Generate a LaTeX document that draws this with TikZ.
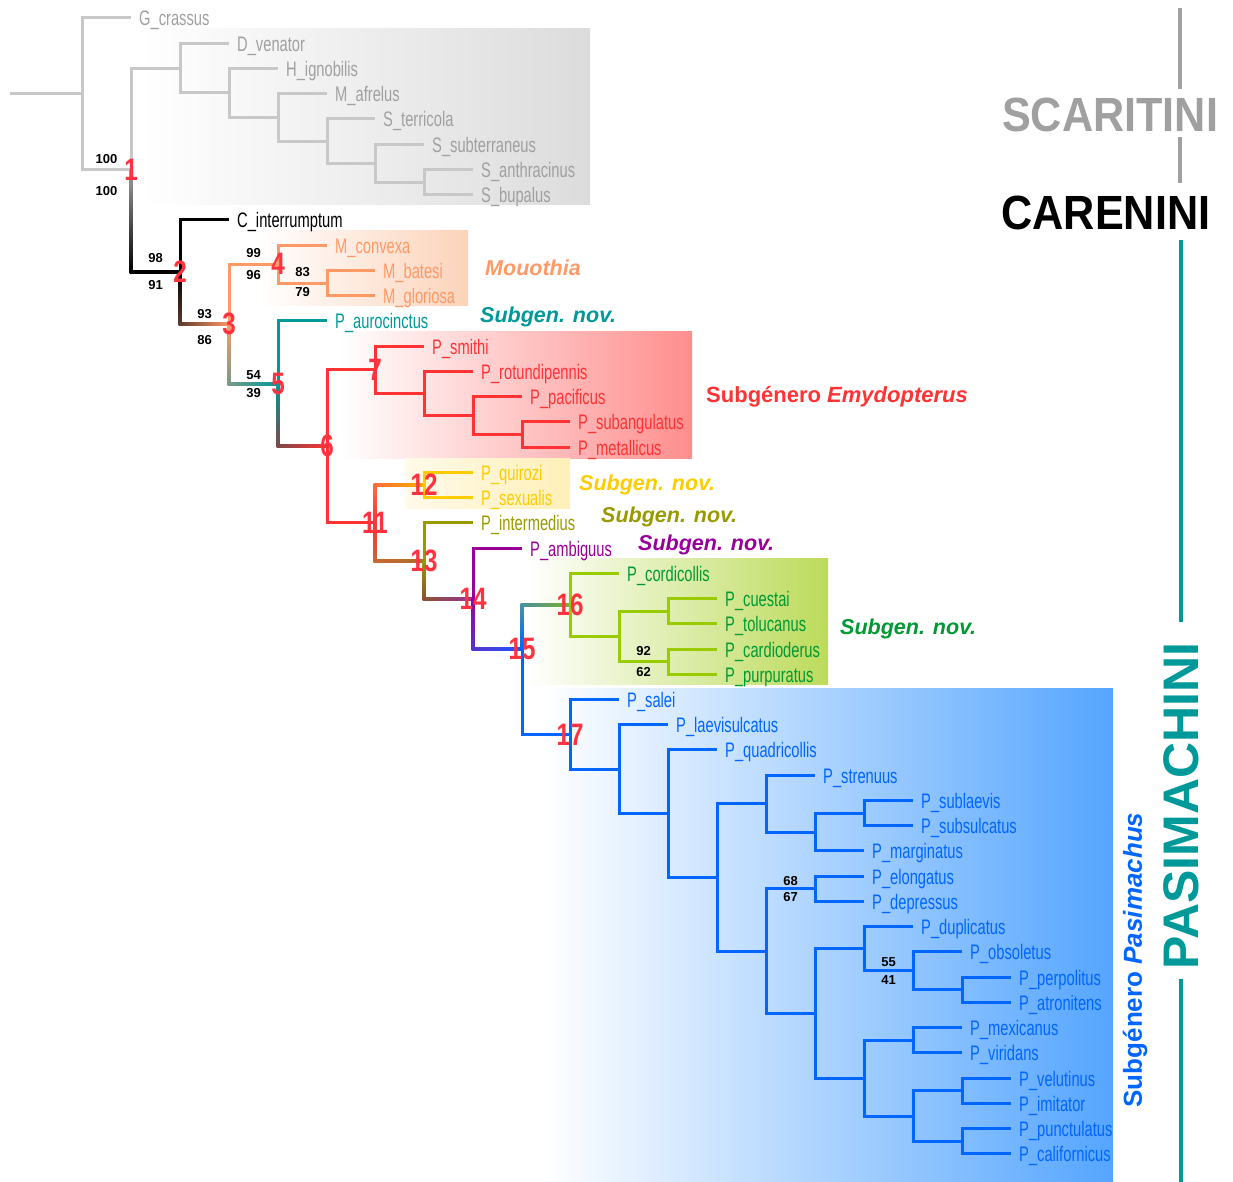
\documentclass[tikz,border=0pt]{standalone}
\usepackage{fontspec}
\setmainfont{Liberation Sans}
\newfontfamily\taxfont[FakeStretch=0.7]{Liberation Sans}
\newfontfamily\numfont[FakeStretch=0.78]{Liberation Sans}
\newfontfamily\tribefont[FakeStretch=0.9]{Liberation Sans}
\usetikzlibrary{calc}

\definecolor{scarline}{HTML}{C8C8C8}
\definecolor{scartext}{HTML}{A0A0A0}
\definecolor{mouo}{HTML}{FF9966}
\definecolor{tealc}{HTML}{009999}
\definecolor{emyd}{HTML}{FF3333}
\definecolor{yell}{HTML}{FFCC00}
\definecolor{olivec}{HTML}{999900}
\definecolor{purp}{HTML}{990099}
\definecolor{limec}{HTML}{99CC00}
\definecolor{greent}{HTML}{009933}
\definecolor{bluec}{HTML}{0066FF}
\definecolor{numred}{HTML}{FF3340}
\definecolor{umber}{HTML}{5C3A2C}
\definecolor{sage}{HTML}{7A9A88}
\definecolor{dusk}{HTML}{7A4848}
\definecolor{ember}{HTML}{FF6A3A}
\definecolor{amber}{HTML}{F5B000}
\definecolor{rust}{HTML}{CC6633}
\definecolor{khaki}{HTML}{A87028}
\definecolor{cocoa}{HTML}{8A5530}
\definecolor{orchid}{HTML}{993399}
\definecolor{indig}{HTML}{5533CC}
\definecolor{royal}{HTML}{2255FF}
\definecolor{slate}{HTML}{4A90A0}
\definecolor{moss}{HTML}{7AB030}
\definecolor{scarbox}{HTML}{DCDCDC}
\definecolor{mouobox}{HTML}{FCD3BA}
\definecolor{emydbox}{HTML}{FF8E8E}
\definecolor{yellbox}{HTML}{FFEFB8}
\definecolor{greenbox}{HTML}{BCDB5A}
\definecolor{bluebox}{HTML}{55A5FF}

% row of a leaf
\def\ry#1{18+25.24*#1}
% shaded legs of an elbow branch
\newcommand{\vgrad}[4]{\shade[top color=#3,bottom color=#4] ($(#1)+(-1.5,0)$) rectangle ($(#1 |- #2)+(1.5,0)$);}
\newcommand{\hgrad}[4]{\shade[left color=#3,right color=#4] ($(#1 |- #2)+(-1.5,-1.5)$) rectangle ($(#2)+(0,1.5)$);}

\tikzset{
  branch/.style={line width=3pt},
  taxon/.style={anchor=west, inner xsep=8pt, inner ysep=0pt, text height=16pt, text depth=0pt, font=\taxfont\fontsize{21}{24}\selectfont},
  boot/.style={font=\bfseries\fontsize{13}{13}\selectfont, inner sep=1pt, text=black},
  num/.style={font=\numfont\bfseries\fontsize{31}{31}\selectfont, text=numred, inner sep=0pt},
  clade/.style={anchor=west, font=\bfseries\itshape\fontsize{21.5}{24}\selectfont, inner sep=0pt},
  tribe/.style={font=\tribefont\bfseries\fontsize{48}{48}\selectfont, inner sep=0pt},
  tribeline/.style={line width=4pt}
}

\begin{document}
\begin{tikzpicture}[x=1pt,y=-1pt]
\useasboundingbox (0,0) rectangle (1233,1182);

% boxes behind the clades
\shade[left color=white, right color=scarbox] (140,29) rectangle (590,205);
\shade[left color=white, right color=mouobox] (258,231) rectangle (468,305);
\shade[left color=white, right color=emydbox] (340,331) rectangle (692,458);
\shade[left color=yellbox!30!white, right color=yellbox] (405,458) rectangle (570,508);
\shade[left color=white, right color=greenbox] (527,558) rectangle (828,684);
\shade[left color=white, right color=bluebox] (545,688) rectangle (1113,1182);

% internal nodes
\coordinate (base) at (10,94);
\coordinate (root) at (82,94);
\coordinate (n1) at (131,170);
\coordinate (s3) at (180,68.1);
\coordinate (s4) at (229,93);
\coordinate (s5) at (278,117.4);
\coordinate (s6) at (327,141.1);
\coordinate (s7) at (375,163.1);
\coordinate (s8) at (424,182.1);
\coordinate (n2) at (180,271.9);
\coordinate (n3) at (229,323.9);
\coordinate (n4) at (278,264.1);
\coordinate (m4b) at (327,283);
\coordinate (n5) at (278,383.6);
\coordinate (n6) at (327,446.3);
\coordinate (n7) at (375,369.8);
\coordinate (e7b) at (424,393.5);
\coordinate (e7c) at (473,415.5);
\coordinate (e7d) at (522,434.5);
\coordinate (n11) at (375,522.8);
\coordinate (n12) at (424,485);
\coordinate (n13) at (424,560.7);
\coordinate (n14) at (473,598.5);
\coordinate (n15) at (522,649);
\coordinate (n16) at (570,604.8);
\coordinate (g16b) at (619,636.4);
\coordinate (g16c) at (668,611.2);
\coordinate (g16d) at (668,661.6);
\coordinate (n17) at (570,734.4);
\coordinate (pA) at (619,769.2);
\coordinate (pB) at (668,813.7);
\coordinate (pC) at (717,877.4);
\coordinate (pD) at (766,803.6);
\coordinate (pE) at (815,832);
\coordinate (pF) at (864,813.1);
\coordinate (pG) at (766,951.1);
\coordinate (pH) at (815,888.8);
\coordinate (pI) at (815,1013.4);
\coordinate (pJ) at (864,948.7);
\coordinate (pL) at (913,970.8);
\coordinate (pM) at (962,989.8);
\coordinate (pK) at (864,1078.1);
\coordinate (pN) at (913,1040.2);
\coordinate (pO) at (913,1116);
\coordinate (pP) at (962,1090.7);
\coordinate (pQ) at (962,1141.2);

% taxa
\node[taxon, text=scartext] (crassus) at (131,\ry{0}) {G\_crassus};
\node[taxon, text=scartext] (venator) at (229,\ry{1}) {D\_venator};
\node[taxon, text=scartext] (ignobilis) at (278,\ry{2}) {H\_ignobilis};
\node[taxon, text=scartext] (afrelus) at (327,\ry{3}) {M\_afrelus};
\node[taxon, text=scartext] (terricola) at (375,\ry{4}) {S\_terricola};
\node[taxon, text=scartext] (subterraneus) at (424,\ry{5}) {S\_subterraneus};
\node[taxon, text=scartext] (anthracinus) at (473,\ry{6}) {S\_anthracinus};
\node[taxon, text=scartext] (bupalus) at (473,\ry{7}) {S\_bupalus};
\node[taxon, text=black] (interrumptum) at (229,\ry{8}) {C\_interrumptum};
\node[taxon, text=mouo] (convexa) at (327,\ry{9}) {M\_convexa};
\node[taxon, text=mouo] (batesi) at (375,\ry{10}) {M\_batesi};
\node[taxon, text=mouo] (gloriosa) at (375,\ry{11}) {M\_gloriosa};
\node[taxon, text=tealc] (aurocinctus) at (327,\ry{12}) {P\_aurocinctus};
\node[taxon, text=emyd] (smithi) at (424,\ry{13}) {P\_smithi};
\node[taxon, text=emyd] (rotundipennis) at (473,\ry{14}) {P\_rotundipennis};
\node[taxon, text=emyd] (pacificus) at (522,\ry{15}) {P\_pacificus};
\node[taxon, text=emyd] (subangulatus) at (570,\ry{16}) {P\_subangulatus};
\node[taxon, text=emyd] (metallicus) at (570,\ry{17}) {P\_metallicus};
\node[taxon, text=yell] (quirozi) at (473,\ry{18}) {P\_quirozi};
\node[taxon, text=yell] (sexualis) at (473,\ry{19}) {P\_sexualis};
\node[taxon, text=olivec] (intermedius) at (473,\ry{20}) {P\_intermedius};
\node[taxon, text=purp] (ambiguus) at (522,\ry{21}) {P\_ambiguus};
\node[taxon, text=greent] (cordicollis) at (619,\ry{22}) {P\_cordicollis};
\node[taxon, text=greent] (cuestai) at (717,\ry{23}) {P\_cuestai};
\node[taxon, text=greent] (tolucanus) at (717,\ry{24}) {P\_tolucanus};
\node[taxon, text=greent] (cardioderus) at (717,\ry{25}) {P\_cardioderus};
\node[taxon, text=greent] (purpuratus) at (717,\ry{26}) {P\_purpuratus};
\node[taxon, text=bluec] (salei) at (619,\ry{27}) {P\_salei};
\node[taxon, text=bluec] (laevisulcatus) at (668,\ry{28}) {P\_laevisulcatus};
\node[taxon, text=bluec] (quadricollis) at (717,\ry{29}) {P\_quadricollis};
\node[taxon, text=bluec] (strenuus) at (815,\ry{30}) {P\_strenuus};
\node[taxon, text=bluec] (sublaevis) at (913,\ry{31}) {P\_sublaevis};
\node[taxon, text=bluec] (subsulcatus) at (913,\ry{32}) {P\_subsulcatus};
\node[taxon, text=bluec] (marginatus) at (864,\ry{33}) {P\_marginatus};
\node[taxon, text=bluec] (elongatus) at (864,\ry{34}) {P\_elongatus};
\node[taxon, text=bluec] (depressus) at (864,\ry{35}) {P\_depressus};
\node[taxon, text=bluec] (duplicatus) at (913,\ry{36}) {P\_duplicatus};
\node[taxon, text=bluec] (obsoletus) at (962,\ry{37}) {P\_obsoletus};
\node[taxon, text=bluec] (perpolitus) at (1011,\ry{38}) {P\_perpolitus};
\node[taxon, text=bluec] (atronitens) at (1011,\ry{39}) {P\_atronitens};
\node[taxon, text=bluec] (mexicanus) at (962,\ry{40}) {P\_mexicanus};
\node[taxon, text=bluec] (viridans) at (962,\ry{41}) {P\_viridans};
\node[taxon, text=bluec] (velutinus) at (1011,\ry{42}) {P\_velutinus};
\node[taxon, text=bluec] (imitator) at (1011,\ry{43}) {P\_imitator};
\node[taxon, text=bluec] (punctulatus) at (1011,\ry{44}) {P\_punctulatus};
\node[taxon, text=bluec] (californicus) at (1011,\ry{45}) {P\_californicus};

% Scaritini
\draw[branch, scarline] (base) -- (root);
\draw[branch, scarline] (root) |- (crassus.west);
\draw[branch, scarline] (root) |- node[boot, above=4pt, pos=.75]{100} node[boot, below=14pt, pos=.75]{100} (n1);
\draw[branch, scarline] (n1) |- (s3);
\draw[branch, scarline] (s3) |- (venator.west);
\draw[branch, scarline] (s3) |- (s4);
\draw[branch, scarline] (s4) |- (ignobilis.west);
\draw[branch, scarline] (s4) |- (s5);
\draw[branch, scarline] (s5) |- (afrelus.west);
\draw[branch, scarline] (s5) |- (s6);
\draw[branch, scarline] (s6) |- (terricola.west);
\draw[branch, scarline] (s6) |- (s7);
\draw[branch, scarline] (s7) |- (subterraneus.west);
\draw[branch, scarline] (s7) |- (s8);
\draw[branch, scarline] (s8) |- (anthracinus.west);
\draw[branch, scarline] (s8) |- (bupalus.west);

% Carenini
\path (n1) |- node[boot, above=8pt, pos=.75]{98} node[boot, below=7pt, pos=.75]{91} (n2);
\vgrad{n1}{n2}{scartext}{black}
\hgrad{n1}{n2}{black}{black}
\draw[branch, black] (n2) |- (interrumptum.west);

% Pasimachini
\path (n2) |- node[boot, above=4pt, pos=.75]{93} node[boot, below=10pt, pos=.75]{86} (n3);
\vgrad{n2}{n3}{black}{umber}
\hgrad{n2}{n3}{umber}{mouo}
\draw[branch, mouo] (n3) |- node[boot, above=4pt, pos=.75]{99} node[boot, below=4pt, pos=.75]{96} (n4);
\draw[branch, mouo] (n4) |- (convexa.west);
\draw[branch, mouo] (n4) |- node[boot, above=4pt, pos=.75]{83} node[boot, below=2pt, pos=.75]{79} (m4b);
\draw[branch, mouo] (m4b) |- (batesi.west);
\draw[branch, mouo] (m4b) |- (gloriosa.west);

\path (n3) |- node[boot, above=3pt, pos=.75]{54} node[boot, below=4pt, pos=.75]{39} (n5);
\vgrad{n3}{n5}{mouo}{sage}
\hgrad{n3}{n5}{sage}{tealc}
\draw[branch, tealc] (n5) |- (aurocinctus.west);
\vgrad{n5}{n6}{tealc}{dusk}
\hgrad{n5}{n6}{dusk}{emyd}

\draw[branch, emyd] (n6) |- (n7);
\draw[branch, emyd] (n7) |- (smithi.west);
\draw[branch, emyd] (n7) |- (e7b);
\draw[branch, emyd] (e7b) |- (rotundipennis.west);
\draw[branch, emyd] (e7b) |- (e7c);
\draw[branch, emyd] (e7c) |- (pacificus.west);
\draw[branch, emyd] (e7c) |- (e7d);
\draw[branch, emyd] (e7d) |- (subangulatus.west);
\draw[branch, emyd] (e7d) |- (metallicus.west);

\draw[branch, emyd] (n6) |- (n11);
\vgrad{n11}{n12}{ember}{emyd}
\hgrad{n11}{n12}{ember}{amber}
\draw[branch, yell] (n12) |- (quirozi.west);
\draw[branch, yell] (n12) |- (sexualis.west);
\vgrad{n11}{n13}{emyd}{rust}
\hgrad{n11}{n13}{rust}{khaki}
\draw[branch, olivec] (n13) |- (intermedius.west);
\vgrad{n13}{n14}{olivec}{cocoa}
\hgrad{n13}{n14}{cocoa}{orchid}
\draw[branch, purp] (n14) |- (ambiguus.west);
\vgrad{n14}{n15}{purp}{indig}
\hgrad{n14}{n15}{indig}{royal}

\vgrad{n15}{n16}{slate}{bluec}
\hgrad{n15}{n16}{slate}{moss}
\draw[branch, limec] (n16) |- (cordicollis.west);
\draw[branch, limec] (n16) |- (g16b);
\draw[branch, limec] (g16b) |- (g16c);
\draw[branch, limec] (g16b) |- node[boot, above=3pt, pos=.75]{92} node[boot, below=3pt, pos=.75]{62} (g16d);
\draw[branch, limec] (g16c) |- (cuestai.west);
\draw[branch, limec] (g16c) |- (tolucanus.west);
\draw[branch, limec] (g16d) |- (cardioderus.west);
\draw[branch, limec] (g16d) |- (purpuratus.west);

\draw[branch, bluec] (n15) |- (n17);
\draw[branch, bluec] (n17) |- (salei.west);
\draw[branch, bluec] (n17) |- (pA);
\draw[branch, bluec] (pA) |- (laevisulcatus.west);
\draw[branch, bluec] (pA) |- (pB);
\draw[branch, bluec] (pB) |- (quadricollis.west);
\draw[branch, bluec] (pB) |- (pC);
\draw[branch, bluec] (pC) |- (pD);
\draw[branch, bluec] (pD) |- (strenuus.west);
\draw[branch, bluec] (pD) |- (pE);
\draw[branch, bluec] (pE) |- (pF);
\draw[branch, bluec] (pF) |- (sublaevis.west);
\draw[branch, bluec] (pF) |- (subsulcatus.west);
\draw[branch, bluec] (pE) |- (marginatus.west);
\draw[branch, bluec] (pC) |- (pG);
\draw[branch, bluec] (pG) |- node[boot, above=1pt, pos=.75]{68} node[boot, below=1pt, pos=.75]{67} (pH);
\draw[branch, bluec] (pH) |- (elongatus.west);
\draw[branch, bluec] (pH) |- (depressus.west);
\draw[branch, bluec] (pG) |- (pI);
\draw[branch, bluec] (pI) |- (pJ);
\draw[branch, bluec] (pJ) |- (duplicatus.west);
\draw[branch, bluec] (pJ) |- node[boot, above=2pt, pos=.75]{55} node[boot, below=2pt, pos=.75]{41} (pL);
\draw[branch, bluec] (pL) |- (obsoletus.west);
\draw[branch, bluec] (pL) |- (pM);
\draw[branch, bluec] (pM) |- (perpolitus.west);
\draw[branch, bluec] (pM) |- (atronitens.west);
\draw[branch, bluec] (pI) |- (pK);
\draw[branch, bluec] (pK) |- (pN);
\draw[branch, bluec] (pN) |- (mexicanus.west);
\draw[branch, bluec] (pN) |- (viridans.west);
\draw[branch, bluec] (pK) |- (pO);
\draw[branch, bluec] (pO) |- (pP);
\draw[branch, bluec] (pP) |- (velutinus.west);
\draw[branch, bluec] (pP) |- (imitator.west);
\draw[branch, bluec] (pO) |- (pQ);
\draw[branch, bluec] (pQ) |- (punctulatus.west);
\draw[branch, bluec] (pQ) |- (californicus.west);

% node numbers
\node[num] (l1) at (n1) {1};
\node[num] (l2) at (n2) {2};
\node[num] (l3) at (n3) {3};
\node[num] (l4) at (n4) {4};
\node[num] (l5) at (n5) {5};
\node[num] (l6) at (n6) {6};
\node[num] (l7) at (n7) {7};
\node[num] (l11) at (n11) {11};
\node[num] (l12) at (n12) {12};
\node[num] (l13) at (n13) {13};
\node[num] (l14) at (n14) {14};
\node[num] (l15) at (n15) {15};
\node[num] (l16) at (n16) {16};
\node[num] (l17) at (n17) {17};

% clade names
\node[clade, text=mouo] (mouothia) at (485,268) {Mouothia};
\node[clade, text=tealc] (sgteal) at (480,317) {Subgen. nov.};
\node[clade, text=emyd, font=\bfseries\fontsize{22}{24}\selectfont] (emydo) at (706,397) {Subgénero \textit{Emydopterus}};
\node[clade, text=yell] (sgyell) at (579,485) {Subgen. nov.};
\node[clade, text=olivec] (sgolive) at (601,517) {Subgen. nov.};
\node[clade, text=purp] (sgpurp) at (638,545) {Subgen. nov.};
\node[clade, text=greent] (sggreen) at (840,629) {Subgen. nov.};
\node[rotate=90, text=bluec, inner sep=0pt, font=\bfseries\fontsize{26}{28}\selectfont] (pasim) at (1135,960) {Subgénero \textit{Pasimachus}};

% tribes
\draw[tribeline, scartext] (1180,8) -- (1180,89);
\draw[tribeline, scartext] (1180,137) -- (1180,183);
\node[tribe, text=scartext] (scaritini) at (1110,115) {SCARITINI};
\node[tribe, text=black] (carenini) at (1106,213) {CARENINI};
\draw[tribeline, tealc] (1181,240) -- (1181,622);
\draw[tribeline, tealc] (1181,979) -- (1181,1182);
\node[rotate=90, text=tealc, inner sep=0pt, font=\bfseries\fontsize{50}{50}\selectfont] (pasimachini) at (1181,806) {PASIMACHINI};
\end{tikzpicture}
\end{document}
